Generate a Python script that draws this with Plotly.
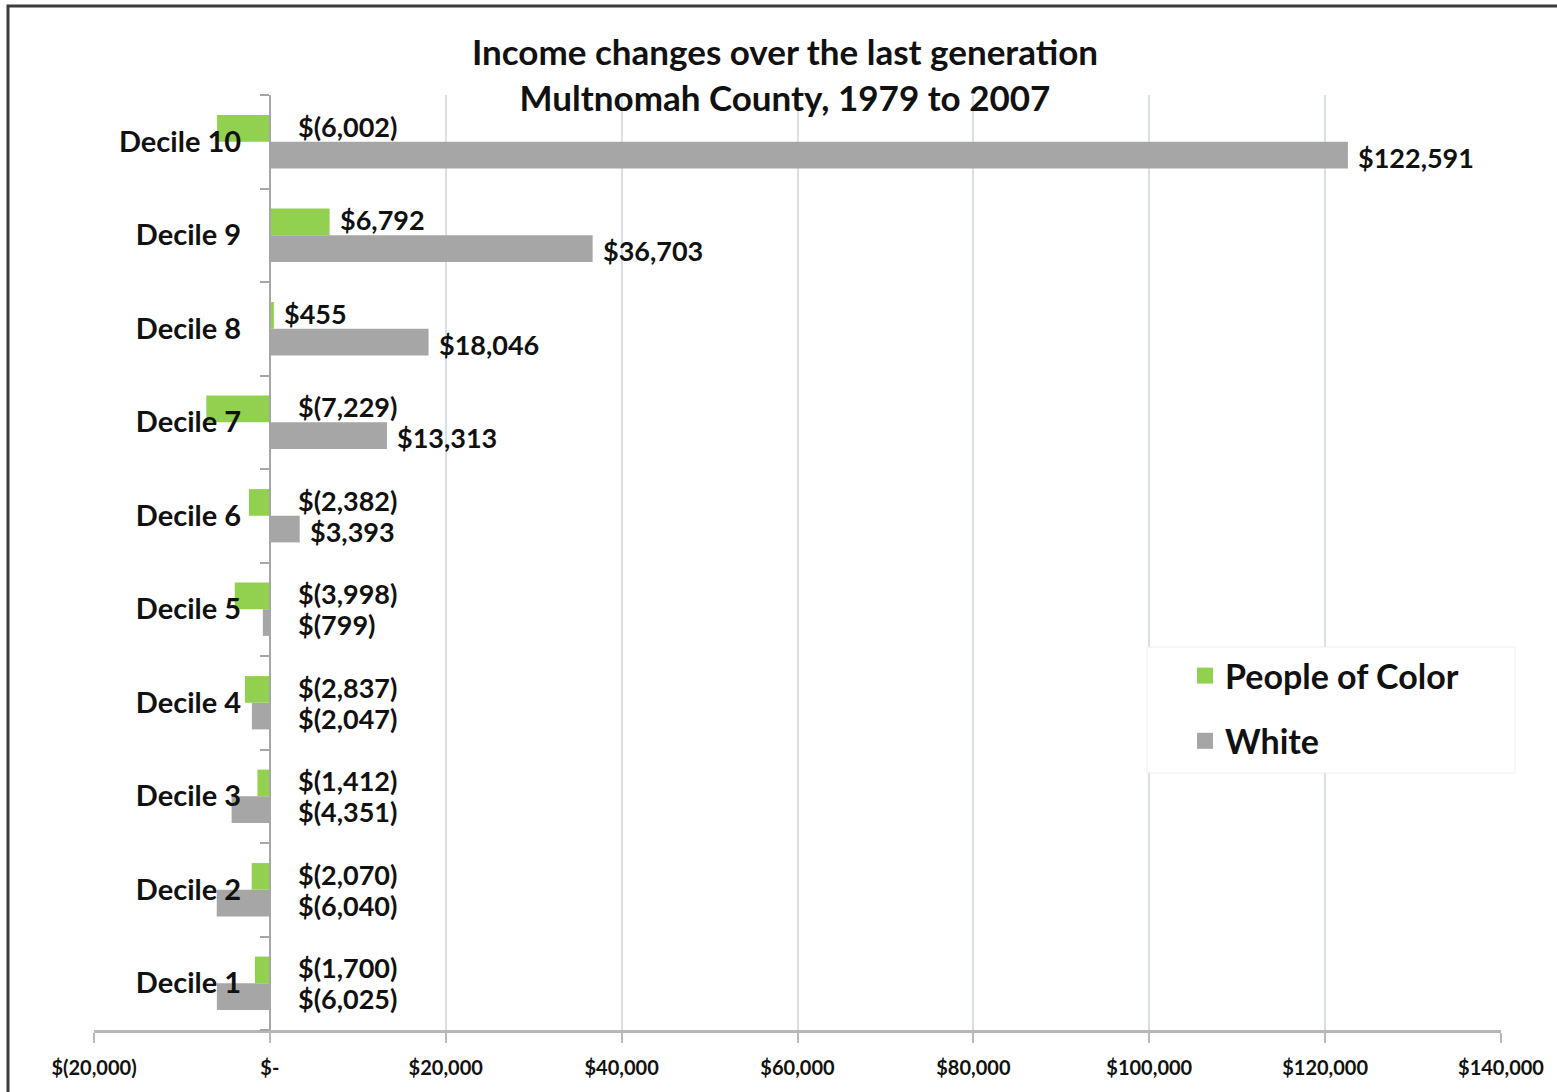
import plotly.graph_objects as go

# Income change by decile, Multnomah County, 1979 to 2007
deciles = ["Decile 1", "Decile 2", "Decile 3", "Decile 4", "Decile 5",
           "Decile 6", "Decile 7", "Decile 8", "Decile 9", "Decile 10"]
people_of_color = [-1700, -2070, -1412, -2837, -3998, -2382, -7229, 455, 6792, -6002]
white = [-6025, -6040, -4351, -2047, -799, 3393, 13313, 18046, 36703, 122591]

x_tick_values = [-20000, 0, 20000, 40000, 60000, 80000, 100000, 120000, 140000]
x_tick_labels = ["$(20,000)", "$-", "$20,000", "$40,000", "$60,000",
                 "$80,000", "$100,000", "$120,000", "$140,000"]

GREEN = "#92d050"
GREY = "#a6a6a6"
INK = "#111111"
FONT = "Lato"

W, H = 1557, 1092
M_L, M_R, M_T, M_B = 94, 56, 95, 62
PLOT_W = W - M_L - M_R
PLOT_H = H - M_T - M_B
BARGAP = 0.43
X_MIN, X_MAX = -20000, 140000


def px_x(px):
    """Horizontal pixel -> paper fraction."""
    return (px - M_L) / PLOT_W


def px_y(px):
    """Vertical pixel (from top) -> paper fraction."""
    return (H - M_B - px) / PLOT_H


def money(v):
    return f"${v:,}" if v >= 0 else f"$({-v:,})"


fig = go.Figure()
# White first so People of Color sits on top within each group
fig.add_trace(go.Bar(y=deciles, x=white, orientation="h", name="White",
                     marker=dict(color=GREY, line=dict(width=0)),
                     showlegend=False))
fig.add_trace(go.Bar(y=deciles, x=people_of_color, orientation="h",
                     name="People of Color",
                     marker=dict(color=GREEN, line=dict(width=0)),
                     showlegend=False))

# legend keys drawn as larger square swatches
for name, color, grp in (("People of Color", GREEN, "p"), ("White", GREY, "w")):
    fig.add_trace(go.Scatter(x=[None], y=[None], mode="markers", name=name,
                             marker=dict(symbol="square", size=16, color=color),
                             legendgroup=grp, showlegend=True))

# value labels next to each bar
band_px = PLOT_H / len(deciles)
bar_px = band_px * (1 - BARGAP) / 2
annotations = []
for series, sign in ((people_of_color, 1), (white, -1)):
    for cat, v in zip(deciles, series):
        annotations.append(dict(
            x=max(v, 0), y=cat, xref="x", yref="y",
            text=money(v), showarrow=False,
            xanchor="left", yanchor="middle",
            xshift=8 if v > 0 else 26,
            yshift=sign * (bar_px / 2 + 2),
            font=dict(family=FONT, size=27, color=INK, weight="bold"),
        ))

fig.update_layout(
    width=W, height=H,
    margin=dict(l=M_L, r=M_R, t=M_T, b=M_B),
    paper_bgcolor="white", plot_bgcolor="white",
    barmode="group", bargap=BARGAP, bargroupgap=0,
    title=dict(
        text="Income changes over the last generation<br>Multnomah County, 1979 to 2007",
        xref="container", x=785 / W, xanchor="center",
        yref="container", y=1 - 65 / H, yanchor="middle",
        font=dict(family=FONT, size=35, color=INK, weight="bold"),
    ),
    xaxis=dict(
        range=[X_MIN, X_MAX], tickvals=x_tick_values, ticktext=x_tick_labels,
        showgrid=True, gridcolor="#d6dfee", gridwidth=2,
        zeroline=False,
        showline=True, linecolor="#b8b8b8", linewidth=3,
        ticks="outside", ticklen=10, tickcolor="#b8b8b8", tickwidth=2,
        tickfont=dict(family=FONT, size=20, color=INK, weight="bold"),
        ticklabelstandoff=8,
    ),
    yaxis=dict(
        type="category", categoryorder="array", categoryarray=deciles,
        anchor="free", position=(0 - X_MIN) / (X_MAX - X_MIN),
        showgrid=False, zeroline=False,
        showline=True, linecolor="#a6a6a6", linewidth=2,
        ticks="outside", tickson="boundaries", ticklen=9,
        tickcolor="#a6a6a6", tickwidth=2,
        tickfont=dict(family=FONT, size=29, color=INK, weight="bold"),
        ticklabelstandoff=22,
    ),
    legend=dict(
        x=px_x(1147), y=px_y(647),
        xanchor="left", yanchor="top",
        traceorder="grouped", tracegroupgap=18,
        bgcolor="rgba(0,0,0,0)", borderwidth=0,
        font=dict(family=FONT, size=34, color=INK, weight="bold"),
        indentation=38, itemsizing="trace",
    ),
    annotations=annotations,
    shapes=[
        # legend panel
        dict(type="rect", xref="paper", yref="paper",
             x0=px_x(1147), x1=px_x(1515), y0=px_y(773), y1=px_y(647),
             line=dict(color="#ededed", width=1), fillcolor="white",
             layer="above"),
        # outer frame
        dict(type="rect", xref="paper", yref="paper",
             x0=px_x(8), x1=px_x(W + 20), y0=px_y(H + 20), y1=px_y(6),
             line=dict(color="#3c3c3c", width=3), fillcolor="rgba(0,0,0,0)",
             layer="above"),
    ],
)

fig.write_html("out.html")
